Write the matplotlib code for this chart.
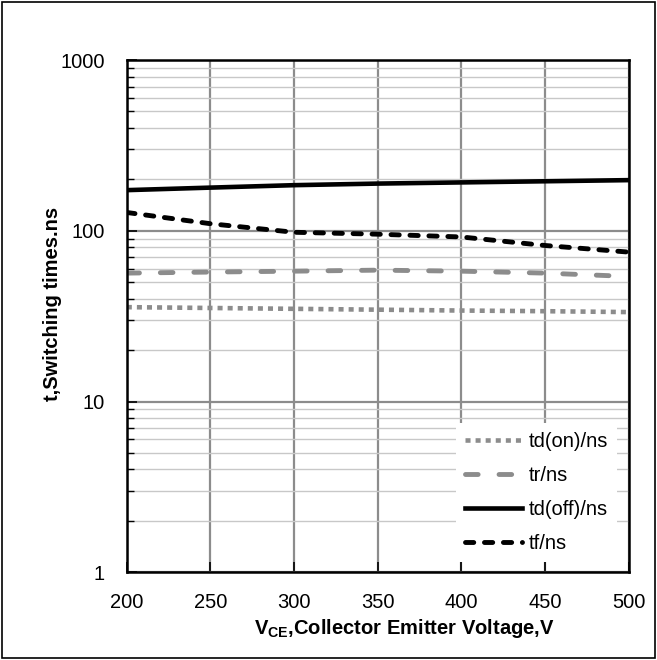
import numpy as np
import matplotlib.pyplot as plt
from matplotlib.ticker import FixedLocator, NullFormatter
from matplotlib.patches import Rectangle

plt.rcParams['font.family'] = ['Liberation Sans', 'DejaVu Sans']

# Switching times vs collector-emitter voltage
vce = [200, 250, 300, 350, 400, 450, 500]
td_on = [35.7, 35.3, 34.9, 34.5, 34.1, 33.8, 33.4]
t_r = [56.5, 57.3, 58.0, 58.8, 58.0, 56.5, 54.0]
td_off = [173, 179, 185, 189, 192, 195, 198]
t_f = [128, 110, 98, 95.5, 92, 82, 75]

fig = plt.figure(figsize=(6.57, 6.60), dpi=100)
ax = fig.add_axes([0.193, 0.133, 0.764, 0.776])

gray = '#8c8c8c'
ax.plot(vce, td_on, color=gray, lw=3.3, ls=(0, (1.1, 1.1)), label='td(on)/ns')
ax.plot(vce, t_r, color=gray, lw=3.5, ls=(0, (2.6, 4.3)), dash_capstyle='round',
        label='tr/ns')
ax.plot(vce, td_off, color='black', lw=3.3, label='td(off)/ns')
ax.plot(vce, t_f, color='black', lw=3.5, ls=(0, (1.7, 2.2)), dash_capstyle='round',
        label='tf/ns')

ax.set_yscale('log')
ax.set_xlim(200, 500)
ax.set_ylim(1, 1000)
ax.set_xticks([200, 250, 300, 350, 400, 450, 500])
ax.set_yticks([1, 10, 100, 1000])
ax.set_yticklabels(['1', '10', '100', '1000'])
minors = [m * 10**e for e in range(0, 3) for m in range(2, 10)]
ax.yaxis.set_minor_locator(FixedLocator(minors))
ax.yaxis.set_minor_formatter(NullFormatter())

ax.grid(True, which='major', color=gray, lw=1.6)
ax.grid(True, which='minor', axis='y', color='#c8c8c8', lw=1.0)
ax.set_axisbelow(True)

ax.tick_params(which='both', direction='in', labelsize=14.5)
ax.tick_params(axis='x', pad=15)
ax.tick_params(axis='y', pad=16)
ax.tick_params(which='major', length=7, width=1.2)
ax.tick_params(which='minor', length=5, width=1)
for s in ax.spines.values():
    s.set_linewidth(1.8)

ax.set_xlabel('V$_{\\mathregular{CE}}$,Collector Emitter Voltage,V', fontsize=14.5,
              fontweight='bold')
ax.xaxis.set_label_coords(0.552, -0.088)
ax.set_ylabel('t,Switching times.ns', fontsize=14.5, fontweight='bold')
ax.yaxis.set_label_coords(-0.129, 0.523)

leg = ax.legend(loc='lower right', bbox_to_anchor=(0.976, 0.02), fontsize=14.5,
                frameon=True, fancybox=False, handlelength=2.85, handletextpad=0.3,
                labelspacing=0.75, borderaxespad=0, borderpad=0.45)
leg.get_frame().set_edgecolor('none')
leg.get_frame().set_facecolor('white')
leg.get_frame().set_alpha(1)

fig.patches.append(Rectangle((0.003, 0.003), 0.994, 0.994, transform=fig.transFigure,
                             fill=False, edgecolor='black', lw=1.2))

fig.savefig('out.png', dpi=100)
